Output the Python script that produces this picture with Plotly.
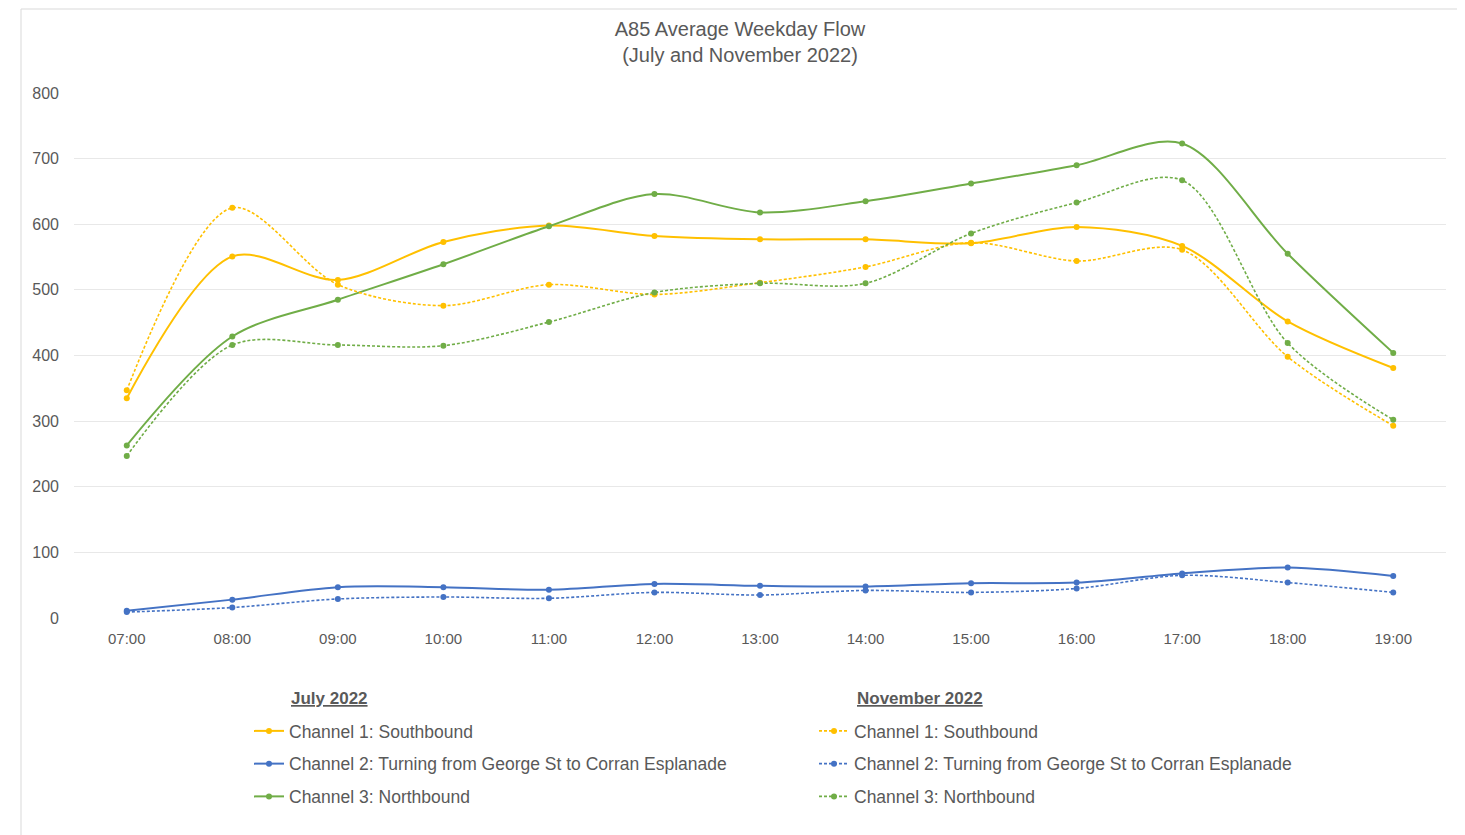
import plotly.graph_objects as go

hours = ["07:00", "08:00", "09:00", "10:00", "11:00", "12:00", "13:00",
         "14:00", "15:00", "16:00", "17:00", "18:00", "19:00"]

jul_ch1 = [335, 551, 515, 573, 598, 582, 577, 577, 571, 596, 567, 452, 381]
jul_ch2 = [11, 28, 47, 47, 43, 52, 49, 48, 53, 54, 68, 77, 64]
jul_ch3 = [263, 429, 485, 539, 597, 646, 618, 635, 662, 690, 723, 555, 404]

nov_ch1 = [347, 625, 508, 476, 508, 493, 511, 535, 572, 544, 561, 398, 293]
nov_ch2 = [9, 16, 29, 32, 30, 39, 35, 42, 39, 45, 65, 54, 39]
nov_ch3 = [247, 416, 416, 415, 451, 496, 510, 510, 586, 633, 667, 419, 302]

series_names = ["Channel 1: Southbound",
                "Channel 2: Turning from George St to Corran Esplanade",
                "Channel 3: Northbound"]
colors = ["#FFC000", "#4472C4", "#70AD47"]

W, H = 1465, 835
OFF = 8  # page body margin
# plot area in screen pixels: x 74..1446, y 93..618
L = 74 - OFF
T = 93 - OFF
R = W - (1446 - OFF)
B = H - (618 - OFF)
PW, PH = W - L - R, H - T - B


def px_x(x):
    return (x - OFF - L) / PW


def px_y(y):
    return (H - B - (y - OFF)) / PH


fig = go.Figure()

for i, (vals, name, col) in enumerate(zip([jul_ch1, jul_ch2, jul_ch3], series_names, colors)):
    fig.add_trace(go.Scatter(
        x=hours, y=vals, name=name, mode="lines+markers",
        line=dict(color=col, width=2, shape="spline", smoothing=0.9),
        marker=dict(color=col, size=6),
        legend="legend", legendgroup="jul%d" % i))

for i, (vals, name, col) in enumerate(zip([nov_ch1, nov_ch2, nov_ch3], series_names, colors)):
    fig.add_trace(go.Scatter(
        x=hours, y=vals, name=name, mode="lines+markers",
        line=dict(color=col, width=1.6, dash="3px,2px", shape="spline", smoothing=0.9),
        marker=dict(color=col, size=6),
        legend="legend2", legendgroup="nov%d" % i))

font_col = "#595959"

fig.update_layout(
    width=W, height=H,
    paper_bgcolor="white", plot_bgcolor="white",
    margin=dict(l=L, r=R, t=T, b=B, autoexpand=False),
    font=dict(family="Liberation Sans, Arial, sans-serif", color=font_col, size=13),
    title=dict(text="A85 Average Weekday Flow<br>(July and November 2022)",
               x=(740 - OFF) / W, xanchor="center", y=1 - 28 / H, yanchor="top",
               font=dict(size=20, color=font_col)),
    xaxis=dict(type="category", range=[-0.5, 12.5], showgrid=False,
               showline=False, zeroline=False, ticks="",
               ticklabelstandoff=10,
               tickfont=dict(size=15, color=font_col)),
    yaxis=dict(range=[0, 800], dtick=100, showgrid=True, gridcolor="#E8E8E8",
               gridwidth=1, zeroline=False, showline=False, ticks="",
               ticklabelstandoff=14,
               tickfont=dict(size=16, color=font_col)),
    legend=dict(x=px_x(249), y=px_y(713), xanchor="left", yanchor="top",
                font=dict(size=17.5, color=font_col), bgcolor="rgba(0,0,0,0)",
                tracegroupgap=7),
    legend2=dict(x=px_x(814), y=px_y(713), xanchor="left", yanchor="top",
                 font=dict(size=17.5, color=font_col), bgcolor="rgba(0,0,0,0)",
                 tracegroupgap=7),
    showlegend=True,
)

fig.add_annotation(text="<b><u>July 2022</u></b>", xref="paper", yref="paper",
                   x=px_x(289), y=px_y(698), xanchor="left", yanchor="middle",
                   showarrow=False, font=dict(size=17, color=font_col))
fig.add_annotation(text="<b><u>November 2022</u></b>", xref="paper", yref="paper",
                   x=px_x(855), y=px_y(698), xanchor="left", yanchor="middle",
                   showarrow=False, font=dict(size=17, color=font_col))

fig.add_shape(type="rect", xref="paper", yref="paper",
              x0=px_x(21), x1=px_x(1458), y0=px_y(850), y1=px_y(9),
              line=dict(color="#D9D9D9", width=1), fillcolor="rgba(0,0,0,0)",
              layer="below")

fig.write_html("out.html")
